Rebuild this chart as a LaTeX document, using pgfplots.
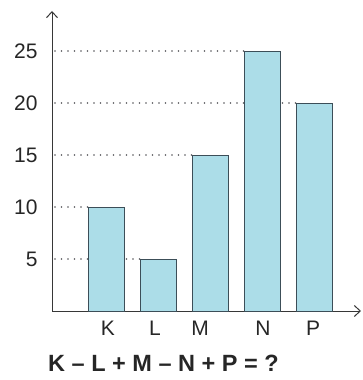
\documentclass[border=0pt]{standalone}
\usepackage{pgfplots}
\pgfplotsset{compat=1.18}
\usepackage{fontspec}
\setmainfont{Liberation Sans}
\usetikzlibrary{arrows.meta}
\definecolor{barfill}{RGB}{172,221,232}
\definecolor{baredge}{RGB}{60,78,88}
\definecolor{axisgray}{RGB}{55,55,55}
\definecolor{dotgray}{RGB}{85,85,90}
\begin{document}
\begin{tikzpicture}
\path[use as bounding box] (0,0) rectangle (363pt,380pt);
\begin{axis}[
  at={(52pt,69pt)}, anchor=south west,
  scale only axis, width=309pt, height=300pt,
  xmin=52, xmax=361, ymin=0, ymax=28.85,
  axis lines=left,
  axis line style={axisgray, line width=1pt, -{Straight Barb[length=6pt,width=11pt]}},
  xtick={108,155,200,263,313}, xticklabels={K,L,M,N,P},
  ytick={5,10,15,20,25},
  major tick length=0pt,
  tick label style={font=\fontsize{21}{21}\selectfont, text=black!85},
  /pgf/number format/assume math mode=true,
  xticklabel style={yshift=-7pt},
  yticklabel style={xshift=-11pt},
  clip=false,
]
\addplot[dotgray, line width=1.8pt, line cap=round, dash pattern=on 0pt off 6.5pt] coordinates {(55,25) (244,25)};
\addplot[dotgray, line width=1.8pt, line cap=round, dash pattern=on 0pt off 6.5pt] coordinates {(55,20) (296.5,20)};
\addplot[dotgray, line width=1.8pt, line cap=round, dash pattern=on 0pt off 6.5pt] coordinates {(55,15) (192,15)};
\addplot[dotgray, line width=1.8pt, line cap=round, dash pattern=on 0pt off 6.5pt] coordinates {(55,10) (88.5,10)};
\addplot[dotgray, line width=1.8pt, line cap=round, dash pattern=on 0pt off 6.5pt] coordinates {(55,5) (140,5)};
\addplot[ybar, bar shift=0pt, bar width=36pt, fill=barfill, draw=baredge, line width=0.9pt]
  coordinates {(106.5,10) (158,5) (210,15) (262,25) (314.5,20)};
\node[text=black!85, font=\bfseries\fontsize{23.5}{23.5}\selectfont] at (axis cs:163.5,-5.0) {K – L + M – N + P = ?};
\end{axis}
\end{tikzpicture}
\end{document}
